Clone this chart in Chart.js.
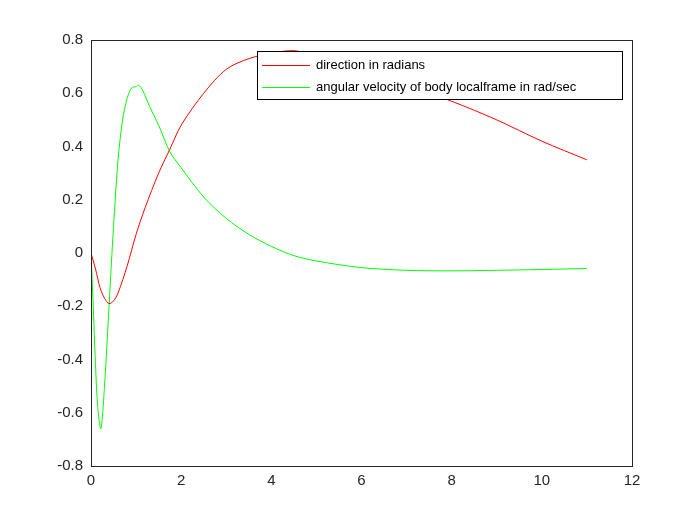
<!DOCTYPE html>
<html><head><meta charset="utf-8">
<script src="https://cdn.jsdelivr.net/npm/chart.js@4"></script>
<style>body{margin:0;background:#fff}#wrap{width:700px;height:525px;position:relative}</style>
</head><body><div id="wrap"><canvas id="chart" width="700" height="525"></canvas></div>
<script>
// --- DATA ---
const redX = [0, 0.1, 0.2, 0.3, 0.4, 0.5, 0.6, 0.8, 1.0, 1.2, 1.5, 1.75, 2.0, 2.5, 3.0, 3.5, 4.0, 4.5, 5.0, 6.0, 7.0, 8.0, 9.0, 10.0, 11.0];
const redY = [0, -0.06, -0.13, -0.17, -0.19, -0.18, -0.15, -0.05, 0.07, 0.17, 0.3, 0.39, 0.48, 0.6, 0.69, 0.73, 0.75, 0.76, 0.74, 0.69, 0.63, 0.57, 0.5, 0.42, 0.35];
const greenX = [0, 0.05, 0.1, 0.15, 0.22, 0.3, 0.4, 0.5, 0.6, 0.7, 0.8, 0.9, 1.0, 1.06, 1.15, 1.3, 1.5, 1.75, 2.0, 2.5, 3.0, 3.5, 4.0, 4.5, 5.0, 6.0, 7.0, 8.0, 9.0, 10.0, 11.0];
const greenY = [0, -0.2, -0.42, -0.58, -0.66, -0.5, -0.2, 0.1, 0.35, 0.5, 0.58, 0.62, 0.625, 0.63, 0.61, 0.55, 0.48, 0.38, 0.32, 0.21, 0.13, 0.07, 0.025, -0.01, -0.03, -0.055, -0.065, -0.067, -0.065, -0.062, -0.058];
const labels = ['direction in radians', 'angular velocity of body localframe in rad/sec'];
const colors = ['#ff0000', '#00ff00'];
const xTicks = [0, 2, 4, 6, 8, 10, 12];
const yTicks = [-0.8, -0.6, -0.4, -0.2, 0, 0.2, 0.4, 0.6, 0.8];

const pts = (xs, ys) => xs.map((x, i) => ({ x: x, y: ys[i] }));
const font = { family: 'Liberation Sans, Arial', size: 15 };

// legend box drawn inside the axes, MATLAB style
const boxLegend = {
  id: 'boxLegend',
  afterDraw(c) {
    const g = c.ctx, a = c.chartArea;
    const x0 = 257, y0 = 51, w = 365, h = 48;
    g.save();
    g.fillStyle = '#fff'; g.fillRect(x0, y0, w, h);
    g.strokeStyle = '#000'; g.lineWidth = 1; g.strokeRect(x0 + 0.5, y0 + 0.5, w, h);
    g.font = '13px Liberation Sans, Arial'; g.textBaseline = 'middle';
    labels.forEach((t, i) => {
      const yy = y0 + 14 + i * 22;
      g.strokeStyle = colors[i]; g.lineWidth = 1.2;
      g.beginPath(); g.moveTo(x0 + 5, yy + 0.5); g.lineTo(x0 + 53, yy + 0.5); g.stroke();
      g.fillStyle = '#000'; g.fillText(t, x0 + 59, yy);
    });
    g.strokeStyle = '#262626'; g.lineWidth = 1;
    g.strokeRect(a.left + 0.5, a.top + 0.5, a.right - a.left, a.bottom - a.top);
    g.restore();
  }
};

new Chart(document.getElementById('chart'), {
  type: 'line',
  data: { datasets: [
    { label: labels[0], data: pts(redX, redY), borderColor: colors[0], borderWidth: 1, pointRadius: 0, tension: 0.3 },
    { label: labels[1], data: pts(greenX, greenY), borderColor: colors[1], borderWidth: 1, pointRadius: 0, tension: 0.3 }
  ] },
  options: {
    responsive: false, animation: false,
    layout: { padding: { top: 40, right: 68, bottom: 0, left: 0 } },
    plugins: { legend: { display: false }, tooltip: { enabled: false } },
    scales: {
      x: { type: 'linear', min: 0, max: 12,
        afterBuildTicks: s => { s.ticks = xTicks.map(v => ({ value: v })); },
        afterFit: s => { s.height = 59; },
        grid: { display: false, drawTicks: false }, border: { color: '#262626' },
        ticks: { color: '#262626', font: font, padding: 6 } },
      y: { min: -0.8, max: 0.8,
        afterBuildTicks: s => { s.ticks = yTicks.map(v => ({ value: v })); },
        afterFit: s => { s.width = 91; },
        grid: { display: false, drawTicks: false }, border: { color: '#262626' },
        ticks: { color: '#262626', font: font, padding: 8, callback: v => v === 0 ? '0' : v.toFixed(1) } }
    }
  },
  plugins: [boxLegend]
});
</script></body></html>
